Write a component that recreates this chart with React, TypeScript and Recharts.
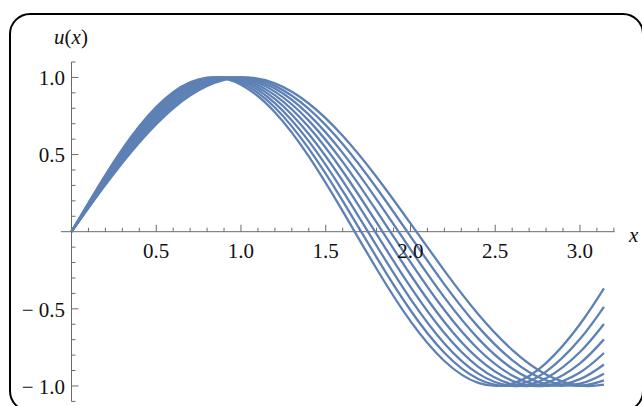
import { LineChart, Line, XAxis, YAxis, ReferenceLine } from 'recharts';

// sample points, x from 0 to pi
const xs = [0, 0.2, 0.4, 0.6, 0.8, 1.0, 1.2, 1.4, 1.6, 1.8, 2.0, 2.2, 2.4, 2.6, 2.8, 3.0, 3.1416];

const u1 = [0, 0.304, 0.579, 0.8, 0.944, 1.0, 0.961, 0.831, 0.622, 0.355, 0.054, -0.252, -0.535, -0.766, -0.925, -0.997, -0.991];
const u2 = [0, 0.312, 0.593, 0.814, 0.955, 1.0, 0.945, 0.796, 0.568, 0.283, -0.03, -0.341, -0.617, -0.832, -0.963, -0.999, -0.964];
const u3 = [0, 0.32, 0.606, 0.829, 0.964, 0.998, 0.928, 0.759, 0.511, 0.21, -0.114, -0.426, -0.693, -0.887, -0.988, -0.985, -0.92];
const u4 = [0, 0.328, 0.619, 0.843, 0.973, 0.995, 0.908, 0.72, 0.453, 0.135, -0.197, -0.508, -0.762, -0.932, -0.999, -0.956, -0.861];
const u5 = [0, 0.336, 0.633, 0.856, 0.98, 0.99, 0.885, 0.678, 0.392, 0.06, -0.279, -0.585, -0.823, -0.966, -0.997, -0.912, -0.786];
const u6 = [0, 0.344, 0.645, 0.869, 0.986, 0.983, 0.861, 0.633, 0.329, -0.016, -0.358, -0.657, -0.876, -0.989, -0.98, -0.853, -0.698];
const u7 = [0, 0.352, 0.658, 0.881, 0.991, 0.975, 0.834, 0.587, 0.265, -0.091, -0.435, -0.724, -0.92, -0.999, -0.95, -0.78, -0.598];
const u8 = [0, 0.359, 0.671, 0.893, 0.995, 0.965, 0.805, 0.538, 0.2, -0.166, -0.509, -0.785, -0.955, -0.998, -0.907, -0.696, -0.487];
const u9 = [0, 0.367, 0.683, 0.904, 0.998, 0.953, 0.774, 0.488, 0.133, -0.24, -0.58, -0.838, -0.98, -0.985, -0.852, -0.6, -0.368];

const curves = [u1, u2, u3, u4, u5, u6, u7, u8, u9];

const xMajor = [0.5, 1.0, 1.5, 2.0, 2.5, 3.0];
const xTicks = [0.1, 0.2, 0.3, 0.4, 0.5, 0.6, 0.7, 0.8, 0.9, 1.0, 1.1, 1.2, 1.3, 1.4, 1.5, 1.6,
  1.7, 1.8, 1.9, 2.0, 2.1, 2.2, 2.3, 2.4, 2.5, 2.6, 2.7, 2.8, 2.9, 3.0, 3.1, 3.2];
const yMajor = [-1.0, -0.5, 0.5, 1.0];
const yTicks = [-1.1, -1.0, -0.9, -0.8, -0.7, -0.6, -0.5, -0.4, -0.3, -0.2, -0.1,
  0.1, 0.2, 0.3, 0.4, 0.5, 0.6, 0.7, 0.8, 0.9, 1.0, 1.1];

const data = xs.map((x, i) => {
  const row: Record<string, number> = { x };
  curves.forEach((c, k) => { row['u' + (k + 1)] = c[i]; });
  return row;
});

const W = 642;
const H = 406;
const AXIS_SIZE = 10;
// plot area: left 60.85, top 62, right 614.6, bottom 401.4
const PLOT = { top: 62, right: 27.4, bottom: 4.6, left: 60.85 };
const MARGIN = { top: PLOT.top - AXIS_SIZE, right: PLOT.right, bottom: PLOT.bottom, left: PLOT.left - AXIS_SIZE };
const X_DOMAIN = [-0.0628, 3.2044];
const Y_DOMAIN = [-1.1, 1.1];
const PLOT_W = W - PLOT.left - PLOT.right;
const PLOT_H = H - PLOT.top - PLOT.bottom;
const X0 = PLOT.left + (PLOT_W * (0 - X_DOMAIN[0])) / (X_DOMAIN[1] - X_DOMAIN[0]);
const Y0 = PLOT.top + PLOT_H / 2;

const AXIS = '#6b6b6b';
const LINE = '#5E81B5';
const FONT = "'Liberation Serif', 'DejaVu Serif', serif";
const textStyle = { fontFamily: FONT, fontSize: 21 };

const isMajor = (v: number, list: number[]) => list.some((m) => Math.abs(m - v) < 1e-6);
const fmt = (v: number) => (v < 0 ? '\u2212 ' + Math.abs(v).toFixed(1) : v.toFixed(1));

function XTick({ x, payload }: any) {
  const major = isMajor(payload.value, xMajor);
  return (
    <g>
      <line x1={x} x2={x} y1={Y0} y2={Y0 - (major ? 7 : 4)} stroke={AXIS} strokeWidth={1} />
      {major && (
        <text x={x} y={Y0 + 26.6} textAnchor="middle" style={textStyle} fill="#111">
          {fmt(payload.value)}
        </text>
      )}
    </g>
  );
}

function YTick({ y, payload }: any) {
  const major = isMajor(payload.value, yMajor);
  return (
    <g>
      <line x1={X0} x2={X0 + (major ? 7 : 4)} y1={y} y2={y} stroke={AXIS} strokeWidth={1} />
      {major && (
        <text x={X0 - 6.5} y={y + 7.8} textAnchor="end" style={textStyle} fill="#111">
          {fmt(payload.value)}
        </text>
      )}
    </g>
  );
}

export default function App() {
  return (
    <div style={{ position: 'fixed', left: 0, top: 0, width: W, height: H, overflow: 'hidden', background: '#fff' }}>
      <div
        style={{
          position: 'absolute', left: 9, top: 13, width: 635, height: 399,
          border: '2px solid #000', borderRadius: 21, boxSizing: 'border-box',
        }}
      />
      <div style={{ position: 'absolute', left: 0, top: 0 }}>
        <LineChart width={W} height={H} data={data} margin={MARGIN}>
          <XAxis
            type="number"
            dataKey="x"
            orientation="top"
            domain={X_DOMAIN}
            ticks={xTicks}
            interval={0}
            height={AXIS_SIZE}
            tickSize={0}
            tickMargin={0}
            axisLine={false}
            tickLine={false}
            tick={(p: any) => <XTick {...p} />}
          />
          <YAxis
            type="number"
            domain={Y_DOMAIN}
            ticks={yTicks}
            interval={0}
            width={AXIS_SIZE}
            tickSize={0}
            tickMargin={0}
            axisLine={false}
            tickLine={false}
            tick={(p: any) => <YTick {...p} />}
          />
          <ReferenceLine y={0} stroke={AXIS} strokeWidth={1} />
          <ReferenceLine x={0} stroke={AXIS} strokeWidth={1} />
          {curves.map((_, k) => (
            <Line
              key={k}
              type="natural"
              dataKey={'u' + (k + 1)}
              stroke={LINE}
              strokeWidth={2.3}
              dot={false}
              isAnimationActive={false}
            />
          ))}
        </LineChart>
      </div>
      <svg width={W} height={H} style={{ position: 'absolute', left: 0, top: 0, pointerEvents: 'none' }}>
        <text x={71} y={43.5} textAnchor="middle" style={textStyle} fill="#111">
          <tspan fontStyle="italic">u</tspan>(<tspan fontStyle="italic">x</tspan>)
        </text>
        <text x={629} y={241.5} style={{ ...textStyle, fontStyle: 'italic' }} fill="#111">x</text>
      </svg>
    </div>
  );
}
